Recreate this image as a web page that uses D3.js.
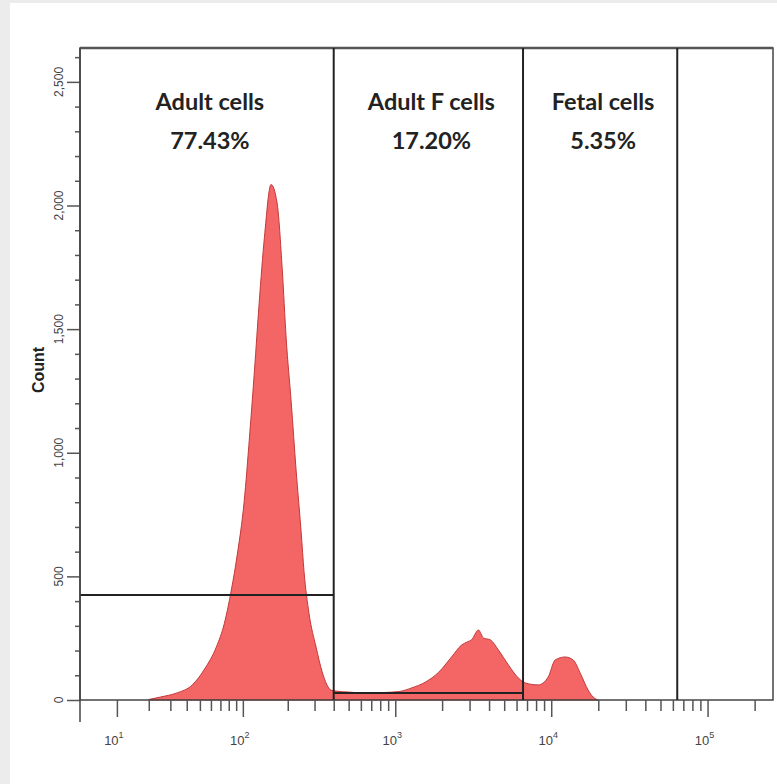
<!DOCTYPE html>
<html>
<head>
<meta charset="utf-8">
<script src="https://cdn.jsdelivr.net/npm/d3@7"></script>
<style>
    html, body { margin: 0; padding: 0; background: #ececec; }
    #chart { width: 777px; height: 784px; }
</style>
</head>
<body>
<div id="chart"></div>
<script>
// Histogram outline: fluorescence value (x) and event count
const fluorescence = [20, 25, 33.5, 44, 54, 65.6, 74.6, 83.4, 91.7, 102, 111, 120, 129, 140, 155,
    170, 184, 195, 211, 227, 245, 256, 276, 307, 336, 384, 414, 502, 647, 820, 1053, 1276,
    1568, 1899, 2299, 2663, 2900, 3085, 3420, 3680, 4082, 4595, 5317, 6161, 6825, 8254,
    9563, 10600, 12275, 13810, 15530, 17220, 18550, 19950];
const counts = [2, 12, 28, 61, 125, 215, 310, 445, 590, 800, 1064, 1335, 1606, 1873, 2085,
    2010, 1739, 1468, 1201, 930, 680, 520, 350, 214, 115, 40, 36, 32, 28, 30, 34, 49,
    73, 112, 174, 222, 235, 243, 283, 251, 243, 202, 142, 89, 69, 61,
    93, 162, 174, 162, 101, 40, 12, 0];

// Gates: names, percentages, boundaries and horizontal gate level
const gateNames = ["Adult cells", "Adult F cells", "Fetal cells"];
const gatePercents = ["77.43%", "17.20%", "5.35%"];
const gateBounds = [3, 400, 6600, 64000];
const gateLevels = [425, 28, null];

// Axis ticks
const yMajor = [0, 500, 1000, 1500, 2000, 2500];
const yMinor = d3.range(100, 2700, 100).filter(v => v % 500 !== 0);
const xMajor = [10, 100, 1000, 10000, 100000];
const xMinor = [20, 30, 40, 50, 60, 70, 80, 90,
    200, 300, 400, 500, 600, 700, 800, 900,
    2000, 3000, 4000, 5000, 6000, 7000, 8000, 9000,
    20000, 30000, 40000, 50000, 60000, 70000, 80000, 90000, 200000];

const W = 777, H = 784;
const plot = { left: 80, top: 48, right: 773, bottom: 700 };

const svg = d3.select("#chart")
    .append("svg")
    .attr("width", W)
    .attr("height", H);

// white panel over gray page
svg.append("rect")
    .attr("x", 10).attr("y", 3)
    .attr("width", W - 10).attr("height", H - 3)
    .attr("fill", "#fff");

// Scales (biexponential-like x axis)
const x = d3.scaleSymlog()
    .constant(6.7)
    .domain([3, 262144])
    .range([plot.left, plot.right]);

const y = d3.scaleLinear()
    .domain([0, 2637])
    .range([plot.bottom, plot.top]);

// Histogram
const hist = fluorescence.map((v, i) => ({ v: v, c: counts[i] }));
const area = d3.area()
    .x(d => x(d.v))
    .y0(y(0))
    .y1(d => y(d.c))
    .curve(d3.curveMonotoneX);

svg.append("path")
    .datum(hist)
    .attr("d", area)
    .attr("fill", "#f46565")
    .attr("stroke", "#c23a3a")
    .attr("stroke-width", 1);

// Frame
svg.append("rect")
    .attr("x", plot.left).attr("y", plot.top)
    .attr("width", plot.right - plot.left)
    .attr("height", plot.bottom - plot.top)
    .attr("fill", "none")
    .attr("stroke", "#444")
    .attr("stroke-width", 1.5);
svg.append("line")
    .attr("x1", plot.left).attr("x2", plot.right)
    .attr("y1", plot.top).attr("y2", plot.top)
    .attr("stroke", "#555").attr("stroke-width", 2.5);

// Gate lines
gateBounds.slice(1).forEach(b => {
    svg.append("line")
        .attr("x1", x(b)).attr("x2", x(b))
        .attr("y1", plot.top).attr("y2", plot.bottom)
        .attr("stroke", "#222").attr("stroke-width", 2);
});
gateLevels.forEach((lvl, i) => {
    if (lvl === null) return;
    svg.append("line")
        .attr("x1", x(gateBounds[i])).attr("x2", x(gateBounds[i + 1]))
        .attr("y1", y(lvl)).attr("y2", y(lvl))
        .attr("stroke", "#222").attr("stroke-width", 2);
});

// Gate labels
gateNames.forEach((name, i) => {
    const cx = (Math.max(plot.left, x(gateBounds[i])) + x(gateBounds[i + 1])) / 2 + 3;
    const t = svg.append("text")
        .attr("x", cx)
        .attr("text-anchor", "middle")
        .style("font-family", "Lato, 'Open Sans', sans-serif")
        .style("font-weight", "bold")
        .style("font-size", "23.5px")
        .attr("fill", "#222");
    t.append("tspan").attr("x", cx).attr("y", 110).text(name);
    t.append("tspan").attr("x", cx).attr("y", 149).text(gatePercents[i]);
});

// Y axis
const yAxisG = svg.append("g")
    .attr("transform", `translate(${plot.left},0)`);
yAxisG.append("g")
    .call(d3.axisLeft(y).tickValues(yMajor).tickSize(13).tickFormat(""));
yAxisG.append("g")
    .call(d3.axisLeft(y).tickValues(yMinor).tickSize(5).tickFormat(""));
yAxisG.selectAll(".domain").remove();
yAxisG.selectAll("line").attr("stroke", "#555").attr("stroke-width", 1.5);
yAxisG.append("line")
    .attr("x1", 0).attr("x2", 0)
    .attr("y1", plot.top).attr("y2", plot.bottom + 22)
    .attr("stroke", "#444").attr("stroke-width", 1.5);

yAxisG.selectAll(".ylab")
    .data(yMajor)
    .join("text")
    .attr("class", "ylab")
    .attr("transform", d => `translate(-17,${y(d)}) rotate(-90)`)
    .attr("text-anchor", "middle")
    .style("font-family", "Arial, 'Liberation Sans', sans-serif")
    .style("font-size", "12px")
    .attr("fill", "#444")
    .text(d => d3.format(",")(d));

svg.append("text")
    .attr("transform", `translate(44,370) rotate(-90)`)
    .attr("text-anchor", "middle")
    .style("font-family", "Arial, 'Liberation Sans', sans-serif")
    .style("font-weight", "bold")
    .style("font-size", "16px")
    .attr("fill", "#222")
    .text("Count");

// X axis
const xAxisG = svg.append("g")
    .attr("transform", `translate(0,${plot.bottom})`);
xAxisG.append("g")
    .call(d3.axisBottom(x).tickValues(xMajor).tickSize(17).tickFormat(""));
xAxisG.append("g")
    .call(d3.axisBottom(x).tickValues(xMinor).tickSize(11).tickFormat(""));
xAxisG.selectAll(".domain").remove();
xAxisG.selectAll("line").attr("stroke", "#555").attr("stroke-width", 1.5);

const xLabs = xAxisG.selectAll(".xlab")
    .data(xMajor)
    .join("text")
    .attr("class", "xlab")
    .attr("x", d => x(d) - 3)
    .attr("y", 45)
    .attr("text-anchor", "middle")
    .style("font-family", "Arial, 'Liberation Sans', sans-serif")
    .style("font-size", "13px")
    .attr("fill", "#444");
xLabs.append("tspan").text("10");
xLabs.append("tspan")
    .attr("dy", -7)
    .style("font-size", "9px")
    .text(d => Math.round(Math.log10(d)));
</script>
</body>
</html>
